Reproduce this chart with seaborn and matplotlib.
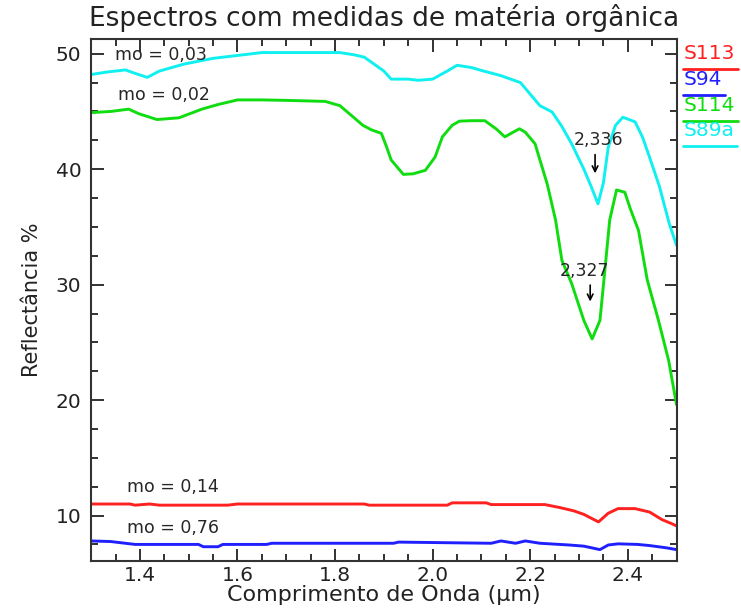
import numpy as np
import pandas as pd
import matplotlib
matplotlib.use('Agg')
import matplotlib.pyplot as plt
from matplotlib.lines import Line2D
from matplotlib.ticker import MultipleLocator
import seaborn as sns

# --- spectra (wavelength in um, reflectance in %) ---
s89a_x = [1.30, 1.33, 1.37, 1.39, 1.415, 1.44, 1.49, 1.55, 1.60, 1.65, 1.70, 1.75, 1.81,
          1.84, 1.86, 1.88, 1.90, 1.915, 1.95, 1.97, 2.00, 2.03, 2.05, 2.08, 2.10, 2.14,
          2.18, 2.20, 2.22, 2.245, 2.265, 2.285, 2.31, 2.325, 2.339, 2.35, 2.36, 2.375,
          2.39, 2.415, 2.43, 2.445, 2.465, 2.485, 2.50]
s89a_y = [48.2, 48.4, 48.6, 48.3, 47.95, 48.5, 49.1, 49.6, 49.85, 50.1, 50.1, 50.1, 50.1,
          49.9, 49.7, 49.1, 48.5, 47.8, 47.8, 47.7, 47.8, 48.5, 49.0, 48.8, 48.55, 48.1,
          47.5, 46.5, 45.5, 44.95, 43.7, 42.2, 40.0, 38.5, 37.0, 38.8, 41.9, 43.8,
          44.5, 44.1, 42.8, 41.0, 38.5, 35.3, 33.4]

s114_x = [1.30, 1.34, 1.377, 1.398, 1.435, 1.48, 1.527, 1.56, 1.60, 1.65, 1.70, 1.78, 1.81,
          1.835, 1.857, 1.875, 1.895, 1.905, 1.915, 1.94, 1.96, 1.985, 2.005, 2.02, 2.04,
          2.055, 2.08, 2.107, 2.13, 2.148, 2.165, 2.178, 2.19, 2.21, 2.235, 2.252, 2.265,
          2.285, 2.31, 2.327, 2.343, 2.353, 2.363, 2.377, 2.394, 2.405, 2.422, 2.44,
          2.463, 2.484, 2.50]
s114_y = [44.9, 45.0, 45.2, 44.8, 44.3, 44.45, 45.2, 45.6, 46.0, 46.0, 45.96, 45.87, 45.5,
          44.6, 43.8, 43.4, 43.1, 42.0, 40.8, 39.55, 39.6, 39.9, 41.05, 42.8, 43.8,
          44.16, 44.2, 44.2, 43.5, 42.8, 43.2, 43.5, 43.2, 42.2, 38.7, 35.6, 32.1,
          30.1, 26.9, 25.3, 26.9, 31.2, 35.6, 38.2, 38.0, 36.6, 34.7, 30.4,
          26.9, 23.4, 19.6]

s113_x = [1.30, 1.38, 1.39, 1.42, 1.44, 1.58, 1.60, 1.86, 1.87, 2.03, 2.04, 2.11, 2.12,
          2.23, 2.26, 2.29, 2.31, 2.34, 2.36, 2.38, 2.415, 2.445, 2.47, 2.49, 2.50]
s113_y = [11.0, 11.0, 10.9, 11.0, 10.9, 10.9, 11.0, 11.0, 10.9, 10.9, 11.1, 11.1, 10.95,
          10.95, 10.7, 10.4, 10.1, 9.45, 10.2, 10.6, 10.6, 10.3, 9.65, 9.3, 9.1]

s94_x = [1.30, 1.34, 1.39, 1.52, 1.53, 1.56, 1.57, 1.66, 1.67, 1.70, 1.92, 1.93, 2.12,
         2.14, 2.17, 2.19, 2.22, 2.28, 2.31, 2.343, 2.36, 2.38, 2.42, 2.445, 2.48, 2.50]
s94_y = [7.8, 7.75, 7.5, 7.5, 7.3, 7.3, 7.5, 7.5, 7.6, 7.6, 7.6, 7.7, 7.6,
         7.8, 7.6, 7.8, 7.6, 7.45, 7.35, 7.05, 7.45, 7.55, 7.5, 7.4, 7.2, 7.05]

sample_names = ['S113', 'S94', 'S114', 'S89a']
sample_colors = ['#ff2020', '#2020ff', '#10dd10', '#10f0f0']
mo_labels = ['mo = 0,14', 'mo = 0,76', 'mo = 0,02', 'mo = 0,03']

spectra = pd.concat([
    pd.DataFrame({'wl': s113_x, 'refl': s113_y, 'amostra': 'S113'}),
    pd.DataFrame({'wl': s94_x, 'refl': s94_y, 'amostra': 'S94'}),
    pd.DataFrame({'wl': s114_x, 'refl': s114_y, 'amostra': 'S114'}),
    pd.DataFrame({'wl': s89a_x, 'refl': s89a_y, 'amostra': 'S89a'}),
], ignore_index=True)

sns.set_style('ticks')
plt.rcParams['font.family'] = ['DejaVu Sans']

fig = plt.figure(figsize=(7.41, 6.14), dpi=100)
ax = fig.add_axes([0.123, 0.087, 0.79, 0.849])

sns.lineplot(data=spectra, x='wl', y='refl', hue='amostra', hue_order=sample_names,
             palette=sample_colors, sort=False, estimator=None, linewidth=2.1,
             legend=False, ax=ax)

ax.set_xlim(1.3, 2.5)
ax.set_ylim(6.1, 51.25)
ax.xaxis.set_major_locator(MultipleLocator(0.2))
ax.xaxis.set_minor_locator(MultipleLocator(0.05))
ax.yaxis.set_major_locator(MultipleLocator(10))
ax.yaxis.set_minor_locator(MultipleLocator(2.5))
ax.tick_params(which='both', direction='in', top=True, right=True, color='#222222',
               width=1.3, labelsize=14.5, labelcolor='#222222')
ax.tick_params(which='major', length=9)
ax.tick_params(which='minor', length=5)
ax.tick_params(axis='y', which='major', pad=7)
ax.tick_params(axis='x', which='major', pad=4)
for sp in ax.spines.values():
    sp.set_visible(True)
    sp.set_linewidth(1.5)
    sp.set_color('#333333')

ax.set_xlabel('Comprimento de Onda (µm)', fontsize=16, color='#222222', labelpad=0)
ax.set_ylabel('Reflectância %', fontsize=15, color='#222222', labelpad=10)
fig.text(0.518, 0.970, 'Espectros com medidas de matéria orgânica', ha='center',
         va='center', fontsize=19, color='#222222')

# organic matter labels next to each curve
ax.text(1.373, 12.5, mo_labels[0], fontsize=12.5, va='center')
ax.text(1.373, 8.9, mo_labels[1], fontsize=12.5, va='center')
ax.text(1.356, 46.4, mo_labels[2], fontsize=12.5, va='center')
ax.text(1.349, 49.85, mo_labels[3], fontsize=12.5, va='center')

# absorption feature markers
ax.annotate('', xy=(2.333, 39.4), xytext=(2.333, 41.5),
            arrowprops=dict(arrowstyle='->', color='black', lw=1.2))
ax.text(2.34, 42.5, '2,336', fontsize=12.5, ha='center', va='center')
ax.annotate('', xy=(2.323, 28.3), xytext=(2.323, 30.2),
            arrowprops=dict(arrowstyle='->', color='black', lw=1.2))
ax.text(2.312, 31.2, '2,327', fontsize=12.5, ha='center', va='center')

# underlined sample names at the right
leg_y = [0.913, 0.870, 0.828, 0.788]
renderer = fig.canvas.get_renderer()
for name, col, y in zip(sample_names, sample_colors, leg_y):
    t = fig.text(0.922, y, name, color=col, fontsize=14.5, va='center', ha='left')
    bb = t.get_window_extent(renderer).transformed(fig.transFigure.inverted())
    fig.add_artist(Line2D([bb.x0, bb.x1 + 0.004], [y - 0.025, y - 0.025],
                          color=col, lw=2, transform=fig.transFigure))

fig.savefig('out.png', dpi=100)
